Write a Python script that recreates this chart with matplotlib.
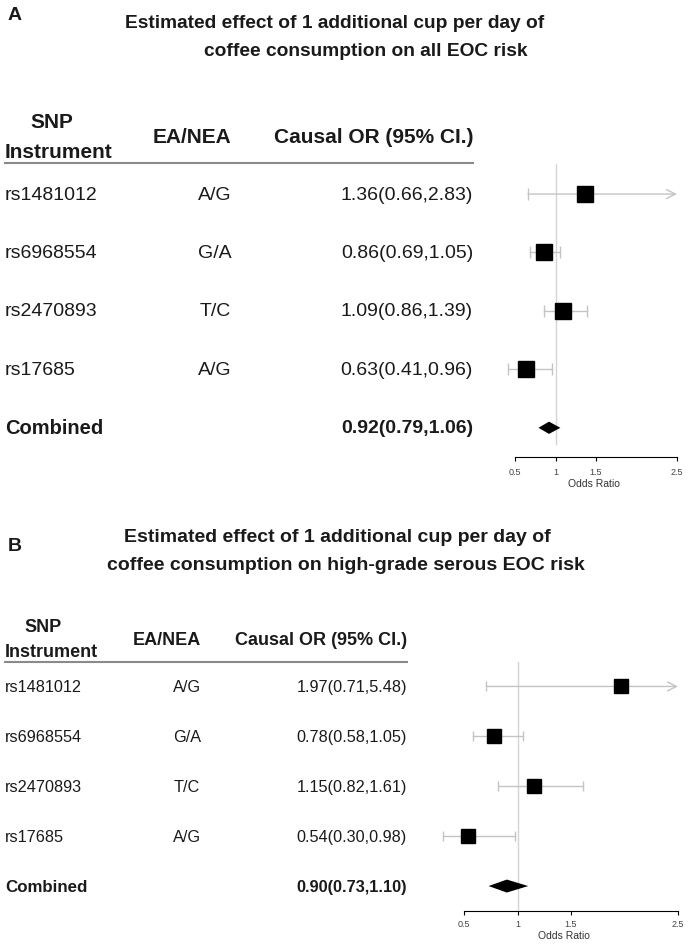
import matplotlib
matplotlib.use("Agg")
import matplotlib.pyplot as plt
import matplotlib.transforms as mtransforms

plt.rcParams['font.family'] = ['Liberation Sans', 'DejaVu Sans']

# shared instruments
snps = ["rs1481012", "rs6968554", "rs2470893", "rs17685"]
alleles = ["A/G", "G/A", "T/C", "A/G"]

# panel A: all EOC
or_all = [1.36, 0.86, 1.09, 0.63]
lo_all = [0.66, 0.69, 0.86, 0.41]
hi_all = [2.83, 1.05, 1.39, 0.96]
comb_all = (0.92, 0.79, 1.06)

# panel B: high-grade serous EOC
or_hgs = [1.97, 0.78, 1.15, 0.54]
lo_hgs = [0.71, 0.58, 0.82, 0.30]
hi_hgs = [5.48, 1.05, 1.61, 0.98]
comb_hgs = (0.90, 0.73, 1.10)

xticks = [0.5, 1, 1.5, 2.5]
xticklabels = ["0.5", "1", "1.5", "2.5"]

W, H = 688, 945
TXT = "#1a1a1a"
GREY = "#c4c4c4"


def fx(px):
    return px / W


def fy(py):
    return 1 - py / H


def panel(fig, box, xlim, ors, los, his, comb, cfg):
    left, top, right, bottom = box
    ax = fig.add_axes([fx(left), fy(bottom), fx(right - left), fy(top) - fy(bottom)])
    n = len(ors)
    ax.set_xlim(*xlim)
    ax.set_ylim(n + 0.5, cfg["ytop"])

    # reference line at OR = 1
    ax.plot([1, 1], [cfg["ref_top"], cfg["ref_bot"]], color="#d4d4d4", lw=1, zorder=1)

    xmax = xticks[-1]
    for i in range(n):
        lo, hi = los[i], his[i]
        if hi > xmax:
            ax.annotate("", xy=(xmax, i), xytext=(lo, i),
                        arrowprops=dict(arrowstyle="->", color=GREY, lw=1,
                                        mutation_scale=16, shrinkA=0, shrinkB=0))
            ax.plot([lo], [i], marker="|", color=GREY, ms=cfg["cap"], mew=1)
        else:
            ax.plot([lo, hi], [i, i], color=GREY, lw=1, zorder=2)
            ax.plot([lo, hi], [i, i], ls="none", marker="|", color=GREY, ms=cfg["cap"], mew=1)
        ax.plot(ors[i], i, marker="s", color="black", ms=cfg["sq"], zorder=3)

    est, clo, chi = comb
    h = cfg["dia"]
    ax.fill([clo, est, chi, est], [n, n - h, n, n + h], color="black", lw=0, zorder=3)

    for s in ["top", "right", "left"]:
        ax.spines[s].set_visible(False)
    ax.spines["bottom"].set_bounds(xticks[0], xticks[-1])
    ax.spines["bottom"].set_linewidth(0.8)
    ax.set_yticks([])
    ax.set_xticks(xticks)
    ax.set_xticklabels(xticklabels)
    ax.tick_params(axis="x", length=3, width=0.8, pad=cfg["pad"], labelsize=6.5, labelcolor="#444444")
    ax.set_xlabel("Odds Ratio", fontsize=7.5, color="#333333", labelpad=1.5)
    ax.patch.set_alpha(0)

    # table text, rows share the forest y scale
    tr = mtransforms.blended_transform_factory(fig.transFigure, ax.transData)
    fs, hfs = cfg["fs"], cfg["hfs"]
    ax.text(fx(cfg["snp_c"]), cfg["y_snp"], "SNP", transform=tr, ha="center", va="center",
            fontsize=hfs, fontweight="bold", color=TXT)
    ax.text(fx(5), cfg["y_inst"], "Instrument", transform=tr, ha="left", va="center",
            fontsize=hfs, fontweight="bold", color=TXT)
    ax.text(fx(cfg["ea_c"]), cfg["y_hdr"], "EA/NEA", transform=tr, ha="center", va="center",
            fontsize=hfs, fontweight="bold", color=TXT)
    ax.text(fx(cfg["val_r"]), cfg["y_hdr"], "Causal OR (95% CI.)", transform=tr, ha="right",
            va="center", fontsize=hfs, fontweight="bold", color=TXT)
    ax.plot([fx(5), fx(cfg["val_r"])], [cfg["y_line"], cfg["y_line"]], transform=tr,
            color="#8a8a8a", lw=1.5, clip_on=False)

    for i in range(n):
        ax.text(fx(5), i, snps[i], transform=tr, ha="left", va="center", fontsize=fs, color=TXT)
        ax.text(fx(cfg["al_c"]), i, alleles[i], transform=tr, ha="center", va="center",
                fontsize=fs, color=TXT)
        ax.text(fx(cfg["val_r"]), i, "%.2f(%.2f,%.2f)" % (ors[i], los[i], his[i]), transform=tr,
                ha="right", va="center", fontsize=fs, color=TXT)
    ax.text(fx(5), n, "Combined", transform=tr, ha="left", va="center", fontsize=fs + 0.5,
            fontweight="bold", color=TXT)
    ax.text(fx(cfg["val_r"]), n, "%.2f(%.2f,%.2f)" % comb, transform=tr, ha="right",
            va="center", fontsize=fs, fontweight="bold", color=TXT)
    return ax


fig = plt.figure(figsize=(W / 100, H / 100), dpi=100)

# panel A
fig.text(fx(8), fy(15), "A", fontsize=14, fontweight="bold", va="center", color=TXT)
fig.text(fx(125), fy(24), "Estimated effect of 1 additional cup per day of", fontsize=13.8,
         fontweight="bold", va="center", color=TXT)
fig.text(fx(204), fy(52), "coffee consumption on all EOC risk", fontsize=13.8,
         fontweight="bold", va="center", color=TXT)
cfg_a = dict(ytop=-0.6, ref_top=-0.51, ref_bot=4.27, cap=8, sq=11, dia=0.105, pad=4,
             fs=14, hfs=15, snp_c=52, ea_c=192, al_c=215, val_r=473,
             y_snp=-1.25, y_inst=-0.72, y_hdr=-0.99, y_line=-0.53)
panel(fig, (500, 160, 688, 458), (0.5 - 15 / 81, 2.5 + 11 / 81),
      or_all, lo_all, hi_all, comb_all, cfg_a)

# panel B
fig.text(fx(8), fy(547), "B", fontsize=14, fontweight="bold", va="center", color=TXT)
fig.text(fx(124), fy(537), "Estimated effect of 1 additional cup per day of", fontsize=14,
         fontweight="bold", va="center", color=TXT)
fig.text(fx(107), fy(565), "coffee consumption on high-grade serous EOC risk", fontsize=14,
         fontweight="bold", va="center", color=TXT)
cfg_b = dict(ytop=-0.55, ref_top=-0.48, ref_bot=4.5, cap=6.5, sq=9.4, dia=0.13, pad=3,
             fs=11.7, hfs=13, snp_c=43, ea_c=167, al_c=187, val_r=407,
             y_snp=-1.2, y_inst=-0.7, y_hdr=-0.94, y_line=-0.48)
panel(fig, (440, 660, 688, 912), (0.5 - 24 / 107, 2.5 + 10 / 107),
      or_hgs, lo_hgs, hi_hgs, comb_hgs, cfg_b)

fig.savefig("out.png", dpi=100)
